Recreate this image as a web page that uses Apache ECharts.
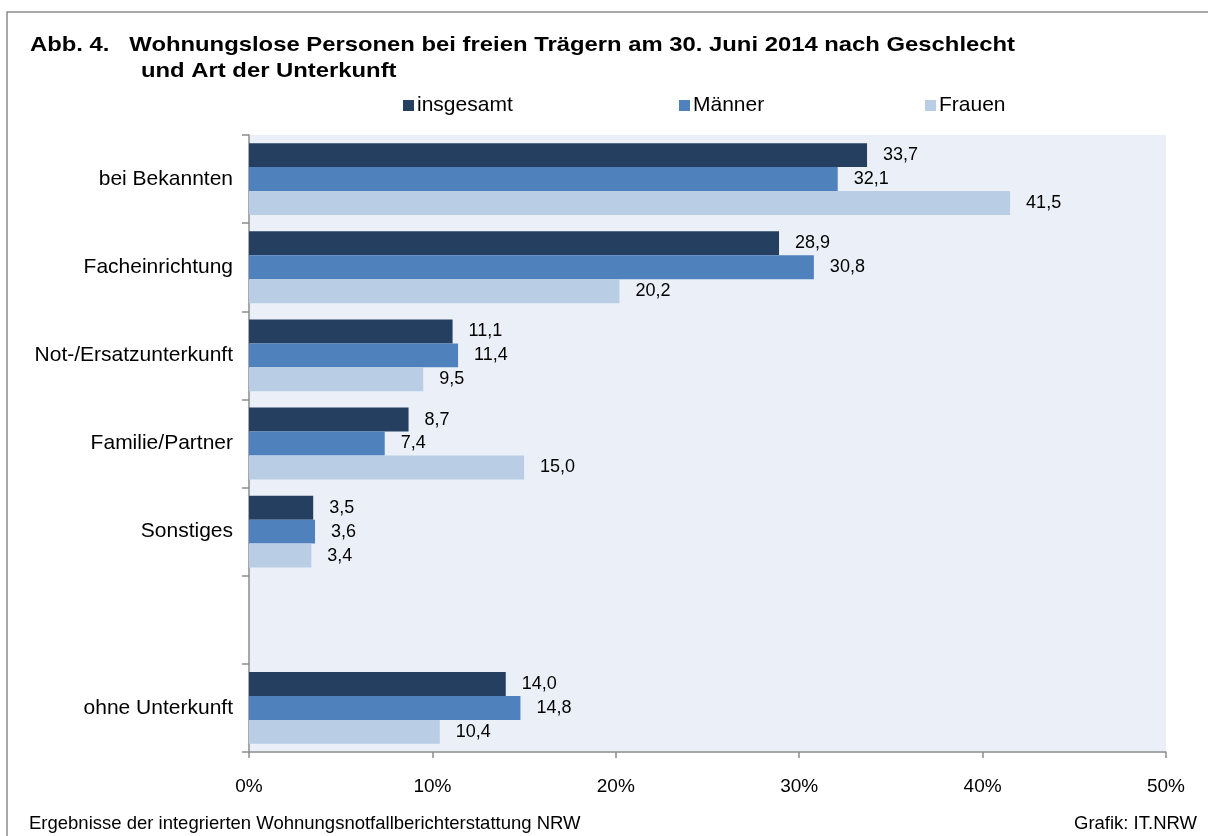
<!DOCTYPE html>
<html>
<head>
<meta charset="utf-8">
<script src="https://cdn.jsdelivr.net/npm/echarts@6/dist/echarts.min.js"></script>
<style>
html,body{margin:0;padding:0;background:#fff;}
#chart{width:1208px;height:836px;}
</style>
</head>
<body>
<div id="chart"></div>
<script>
const categories = ['bei Bekannten', 'Facheinrichtung', 'Not-/Ersatzunterkunft', 'Familie/Partner', 'Sonstiges', '', 'ohne Unterkunft'];
const seriesNames = ['insgesamt', 'Männer', 'Frauen'];
const insgesamt = [33.7, 28.9, 11.1, 8.7, 3.5, null, 14.0];
const maenner   = [32.1, 30.8, 11.4, 7.4, 3.6, null, 14.8];
const frauen    = [41.5, 20.2, 9.5, 15.0, 3.4, null, 10.4];
const xTicks = [0, 10, 20, 30, 40, 50];
const titleLine1 = 'Abb. 4.   Wohnungslose Personen bei freien Trägern am 30. Juni 2014 nach Geschlecht';
const titleLine2 = 'und Art der Unterkunft';
const sourceText = 'Ergebnisse der integrierten Wohnungsnotfallberichterstattung NRW';
const creditText = 'Grafik: IT.NRW';

const FONT = 'Liberation Sans, Arial, sans-serif';
const colors = ['#253F60', '#4F81BD', '#B9CDE5'];
const values = [insgesamt, maenner, frauen];

const chart = echarts.init(document.getElementById('chart'));

const legendLeft = [403, 679, 925];

chart.setOption({
  animation: false,
  textStyle: { fontFamily: FONT },
  legend: seriesNames.map((n, i) => ({
    data: [n],
    left: legendLeft[i],
    top: 95,
    padding: 0,
    icon: 'rect',
    itemWidth: 11,
    itemHeight: 11,
    itemGap: 0,
    textStyle: { fontFamily: FONT, fontSize: 21, color: '#000', padding: [0, 0, 0, -2] }
  })),
  grid: {
    left: 249, right: 42, top: 135, bottom: 84,
    show: true, backgroundColor: '#EBF0F8', borderWidth: 0
  },
  xAxis: {
    type: 'value',
    min: xTicks[0], max: xTicks[xTicks.length - 1], interval: 10,
    axisLine: { show: true, lineStyle: { color: '#8C8C8C', width: 1.5 } },
    axisTick: { show: true, length: 6, lineStyle: { color: '#8C8C8C', width: 1.5 } },
    splitLine: { show: false },
    axisLabel: { formatter: '{value}%', fontFamily: FONT, fontSize: 19, color: '#000', margin: 25 }
  },
  yAxis: {
    type: 'category',
    data: categories,
    inverse: true,
    axisLine: { show: true, lineStyle: { color: '#8C8C8C', width: 1.5 } },
    axisTick: { show: true, length: 7, lineStyle: { color: '#8C8C8C', width: 1.5 } },
    axisLabel: { fontFamily: FONT, fontSize: 21, color: '#000', margin: 16 }
  },
  series: seriesNames.map((n, i) => ({
    name: n,
    type: 'bar',
    data: values[i],
    barGap: '0%',
    barCategoryGap: '18.5%',
    itemStyle: { color: colors[i] },
    label: {
      show: true, position: 'right', distance: 16,
      fontFamily: FONT, fontSize: 18, color: '#000',
      formatter: p => (p.value == null ? '' : p.value.toFixed(1).replace('.', ','))
    }
  })),
  graphic: [
    { type: 'rect', silent: true, z: -1,
      shape: { x: 7, y: 12, width: 1300, height: 900 },
      style: { fill: null, stroke: '#8C8C8C', lineWidth: 1.5 } },
    { type: 'text', x: 30, y: 35, scaleX: 1.135, scaleY: 1,
      style: { text: titleLine1, x: 0, y: 0, verticalAlign: 'top',
               font: 'bold 21px ' + FONT, fill: '#000' } },
    { type: 'text', x: 141, y: 61, scaleX: 1.135, scaleY: 1,
      style: { text: titleLine2, x: 0, y: 0, verticalAlign: 'top',
               font: 'bold 21px ' + FONT, fill: '#000' } },
    { type: 'text', left: 29, top: 814,
      style: { text: sourceText, font: '18.5px ' + FONT, fill: '#000' } },
    { type: 'text', right: 11, top: 814,
      style: { text: creditText, font: '18.5px ' + FONT, fill: '#000' } }
  ]
});
</script>
</body>
</html>
